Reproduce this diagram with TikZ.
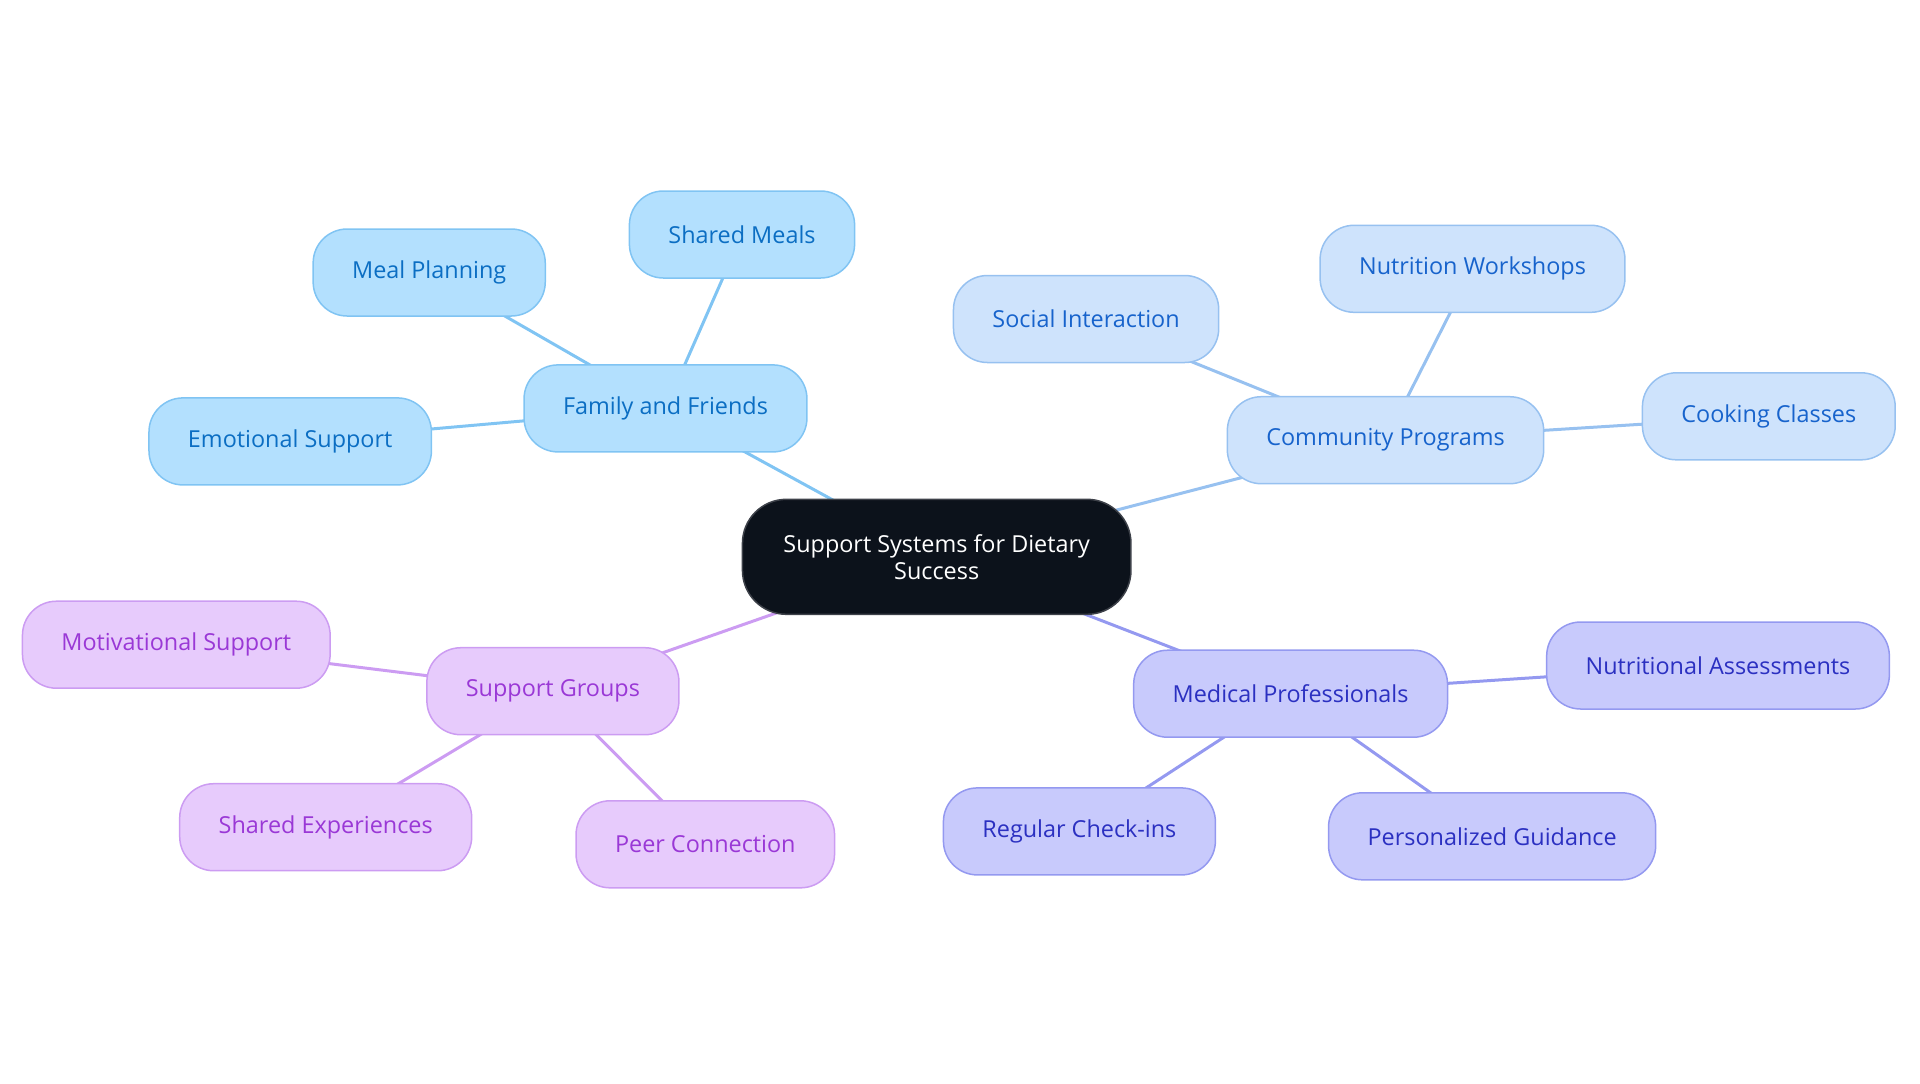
\documentclass[tikz,border=0pt]{standalone}
\usepackage{fontspec}
\setmainfont{Open Sans}
\usepackage{xcolor}
\usepackage{tikz}
\usetikzlibrary{shapes.misc,positioning,backgrounds}
%
\definecolor{rootfill}{HTML}{0C121B}
\definecolor{famfill}{HTML}{B3E0FE}
\definecolor{famdraw}{HTML}{80C4F3}
\definecolor{famtext}{HTML}{0B6EC3}
\definecolor{comfill}{HTML}{CEE3FC}
\definecolor{comdraw}{HTML}{97C1F0}
\definecolor{comtext}{HTML}{1763CC}
\definecolor{grpfill}{HTML}{E7CBFC}
\definecolor{grpdraw}{HTML}{CC9CF2}
\definecolor{grptext}{HTML}{9A38D6}
\definecolor{medfill}{HTML}{C8CAFC}
\definecolor{meddraw}{HTML}{9499F0}
\definecolor{medtext}{HTML}{2B30C1}

\begin{document}
\begin{tikzpicture}[x=0.5pt, y=-0.5pt, semithick,
  box/.style={draw, rounded corners=17pt, line width=0.75pt, inner xsep=19.5pt, inner ysep=0pt, minimum height=43.5pt},
  rootbox/.style={box, fill=rootfill, draw=rootfill!80!white, text=white, align=center, rounded corners=22pt, inner xsep=20.5pt, minimum height=57.5pt},
  fambox/.style={box, fill=famfill, draw=famdraw, text=famtext},
  combox/.style={box, fill=comfill, draw=comdraw, text=comtext},
  grpbox/.style={box, fill=grpfill, draw=grpdraw, text=grptext},
  medbox/.style={box, fill=medfill, draw=meddraw, text=medtext},
  famline/.style={draw=famdraw, line width=1.5pt},
  comline/.style={draw=comdraw, line width=1.5pt},
  grpline/.style={draw=grpdraw, line width=1.5pt},
  medline/.style={draw=meddraw, line width=1.5pt}]
%
\fontsize{11.7}{13.5}\selectfont
\useasboundingbox (0,0) rectangle (1920,1083);
%
\node (root) [rootbox] at (936.7,556.8) {Support Systems for Dietary\\Success};
%
\node (fam) [fambox] at (665.5,408.4) {Family and Friends};
\node (meals) [fambox] at (742.0,234.5) {Shared Meals};
\node (plan) [fambox] at (429.2,272.5) {Meal Planning};
\node (emo) [fambox] at (290.2,441.4) {Emotional Support};
%
\node (com) [combox] at (1385.5,440.2) {Community Programs};
\node (social) [combox] at (1086.1,319.0) {Social Interaction};
\node (workshops) [combox] at (1472.5,268.8) {Nutrition Workshops};
\node (cooking) [combox] at (1768.8,416.3) {Cooking Classes};
%
\node (grp) [grpbox] at (552.9,691.2) {Support Groups};
\node (motiv) [grpbox] at (176.3,644.7) {Motivational Support};
\node (exper) [grpbox] at (325.7,827.2) {Shared Experiences};
\node (peer) [grpbox] at (705.3,844.3) {Peer Connection};
%
\node (med) [medbox] at (1290.6,693.7) {Medical Professionals};
\node (assess) [medbox] at (1718.0,665.5) {Nutritional Assessments};
\node (checkins) [medbox] at (1079.4,831.4) {Regular Check-ins};
\node (guidance) [medbox] at (1492.1,836.3) {Personalized Guidance};
%
\begin{scope}[on background layer]
\path (root.center) edge [famline] (fam.center);
\path (fam.center) edge [famline] (meals.center);
\path (fam.center) edge [famline] (plan.center);
\path (fam.center) edge [famline] (emo.center);
%
\path (root.center) edge [comline] (com.center);
\path (com.center) edge [comline] (social.center);
\path (com.center) edge [comline] (workshops.center);
\path (com.center) edge [comline] (cooking.center);
%
\path (root.center) edge [grpline] (grp.center);
\path (grp.center) edge [grpline] (motiv.center);
\path (grp.center) edge [grpline] (exper.center);
\path (grp.center) edge [grpline] (peer.center);
%
\path (root.center) edge [medline] (med.center);
\path (med.center) edge [medline] (assess.center);
\path (med.center) edge [medline] (checkins.center);
\path (med.center) edge [medline] (guidance.center);
\end{scope}
\end{tikzpicture}
\end{document}
